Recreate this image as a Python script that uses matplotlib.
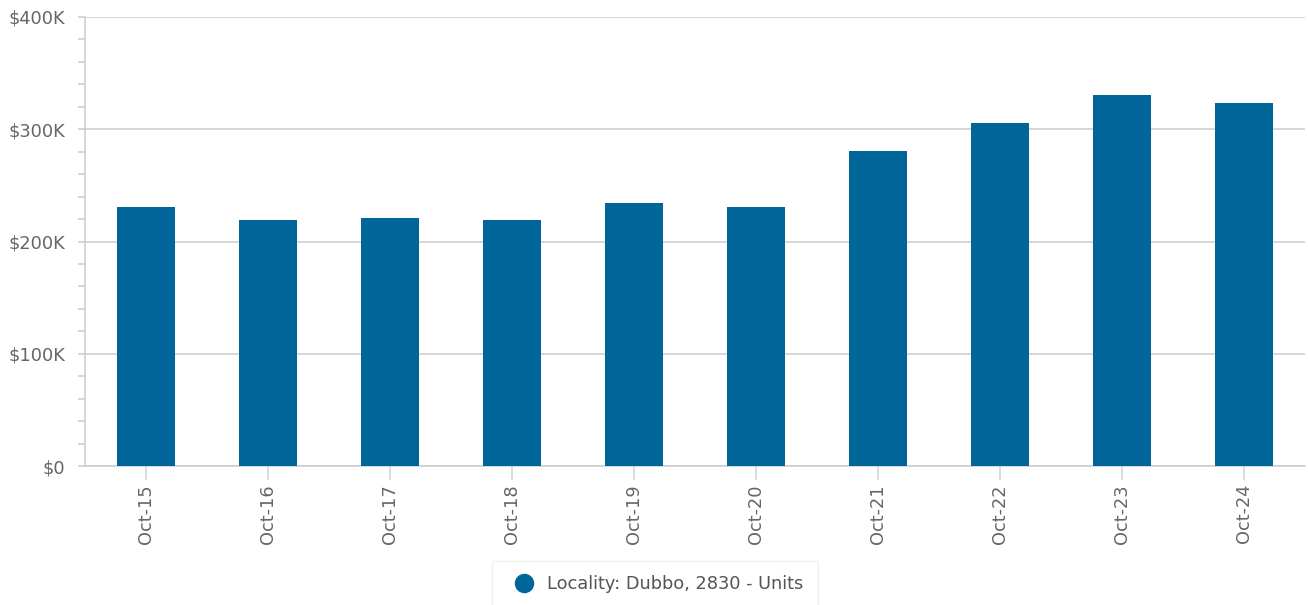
import matplotlib
matplotlib.use("Agg")
import matplotlib.pyplot as plt
from matplotlib.ticker import FuncFormatter, MultipleLocator
from matplotlib.lines import Line2D

categories = ["Oct-15", "Oct-16", "Oct-17", "Oct-18", "Oct-19",
              "Oct-20", "Oct-21", "Oct-22", "Oct-23", "Oct-24"]
values = [231000, 219500, 221000, 219500, 234000,
          231000, 281000, 305500, 330500, 323500]
series_name = "Locality: Dubbo, 2830 - Units"

bar_color = "#006699"
grid_c = "#cccccc"
text_c = "#666666"
fs = 12.8

fig = plt.figure(figsize=(13.08, 6.05), dpi=100)
ax = fig.add_axes([85 / 1308, 1 - 466 / 605, 1220 / 1308, 449 / 605])

x = range(len(categories))
ax.bar(x, values, width=0.47, color=bar_color, zorder=3)

ax.set_xlim(-0.5, len(categories) - 0.5)
ax.set_ylim(0, 400000)
ax.yaxis.set_major_locator(MultipleLocator(100000))
ax.yaxis.set_minor_locator(MultipleLocator(20000))
ax.yaxis.set_major_formatter(FuncFormatter(lambda v, p: "$0" if v == 0 else f"${int(v/1000)}K"))
ax.grid(axis="y", color=grid_c, linewidth=1.1, zorder=0)

ax.set_xticks(list(x))
ax.set_xticklabels(categories, rotation=90)

for s in ["top", "right"]:
    ax.spines[s].set_visible(False)
for s in ["left", "bottom"]:
    ax.spines[s].set_color(grid_c)
    ax.spines[s].set_linewidth(1.1)

ax.tick_params(axis="y", which="major", length=5, color=grid_c, labelcolor=text_c,
               labelsize=fs, pad=9, width=1.1)
ax.tick_params(axis="y", which="minor", length=5, color=grid_c, width=1.1)
ax.tick_params(axis="x", length=10, color="#c8d2e0", labelcolor=text_c,
               labelsize=fs, pad=3, width=1.1)

handle = Line2D([], [], marker="o", linestyle="none", markersize=13,
                markerfacecolor=bar_color, markeredgecolor=bar_color)
leg = fig.legend([handle], [series_name], loc="center",
                 bbox_to_anchor=(655 / 1308, 1 - 584 / 605),
                 frameon=True, fontsize=fs, handletextpad=0.3,
                 borderpad=0.8, fancybox=False, labelcolor="#555555")
leg.get_frame().set_edgecolor("#eeeeee")
leg.get_frame().set_linewidth(1.0)

fig.savefig("out.png", dpi=100, facecolor="white")
